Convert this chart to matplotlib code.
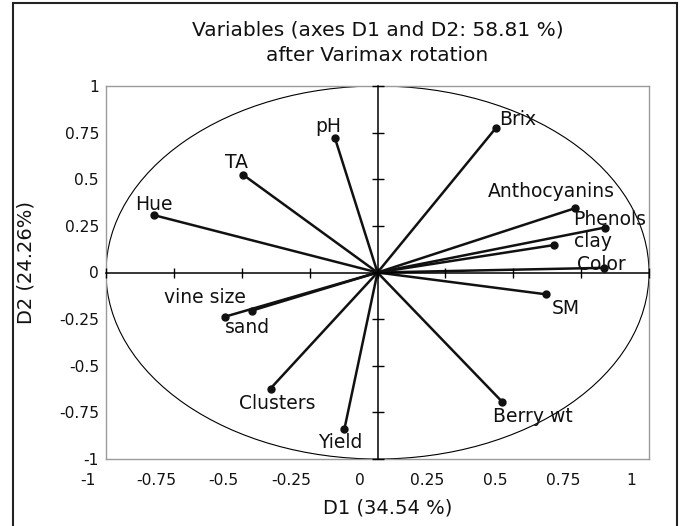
import matplotlib
matplotlib.use("Agg")
import matplotlib.pyplot as plt
import matplotlib.transforms as mtransforms
from matplotlib.patches import Circle, Rectangle

# ---- data ----
variables = ["Hue", "TA", "pH", "Brix", "Anthocyanins", "Phenols", "clay",
             "Color", "SM", "Berry wt", "Yield", "Clusters", "vine size", "sand"]
d1 = [-0.822, -0.494, -0.157, 0.435, 0.726, 0.837, 0.649,
      0.834, 0.621, 0.459, -0.122, -0.394, -0.562, -0.464]
d2 = [0.307, 0.523, 0.722, 0.773, 0.344, 0.241, 0.147,
      0.025, -0.117, -0.693, -0.840, -0.622, -0.237, -0.205]
tick_values = [-1, -0.75, -0.5, -0.25, 0, 0.25, 0.5, 0.75, 1]
tick_labels = ["-1", "-0.75", "-0.5", "-0.25", "0", "0.25", "0.5", "0.75", "1"]
title_text = "Variables (axes D1 and D2: 58.81 %)\nafter Varimax rotation"
xlabel_text = "D1 (34.54 %)"
ylabel_text = "D2 (24.26%)"

# label placement (offset of label centre from point, in pixels)
label_offsets = [(0, 11), (-7, 12), (-7, 11), (22, 9), (-23, 17), (5, 8), (39, 4),
                 (-3, 3), (20, -14), (31, -15), (-4, -13), (7, -15), (-20, 19), (-4, -17)]

plt.rcParams['font.family'] = ['DejaVu Sans']

W, H = 680, 526
fig = plt.figure(figsize=(W / 100, H / 100), dpi=100)
fig.patch.set_facecolor("white")

L, R, T, B = 106, 649, 86, 459
rect = [L / W, 1 - B / H, (R - L) / W, (B - T) / H]
ax = fig.add_axes(rect)
ax.set_xlim(-1, 1)
ax.set_ylim(-1, 1)
for s in ax.spines.values():
    s.set_color("#9a9a9a")
    s.set_linewidth(1.0)
ax.set_xticks(tick_values)
ax.set_xticklabels(tick_labels)
ax.set_yticks(tick_values)
ax.set_yticklabels(tick_labels)
ax.tick_params(axis="both", length=0, labelsize=11.2, colors="#111111")
ax.tick_params(axis="x", pad=10)
ax.tick_params(axis="y", pad=5)
shift = mtransforms.ScaledTranslation(-18 / 100, 0, fig.dpi_scale_trans)
for lab in ax.get_xticklabels():
    lab.set_transform(lab.get_transform() + shift)

# unit circle
ax.add_patch(Circle((0, 0), 1, fill=False, edgecolor="black", linewidth=0.8, zorder=2))

# vectors
for x, y in zip(d1, d2):
    ax.plot([0, x], [0, y], color="#111111", linewidth=1.8, zorder=3,
            solid_capstyle="round")
ax.plot(d1, d2, linestyle="none", marker="o", markersize=5, color="#111111", zorder=4)
for name, x, y, off in zip(variables, d1, d2, label_offsets):
    ax.annotate(name, (x, y), xytext=off, textcoords="offset pixels",
                ha="center", va="center", fontsize=13.5, color="#111111", zorder=5)

# zero axes with tick marks
ax2 = fig.add_axes(rect, sharex=ax, sharey=ax)
ax2.patch.set_visible(False)
ax2.spines["left"].set_position("zero")
ax2.spines["bottom"].set_position("zero")
ax2.spines["top"].set_visible(False)
ax2.spines["right"].set_visible(False)
for s in ("left", "bottom"):
    ax2.spines[s].set_color("black")
    ax2.spines[s].set_linewidth(1.1)
ax2.tick_params(axis="both", direction="inout", width=1.0,
                labelbottom=False, labelleft=False, colors="black")
ax2.tick_params(axis="y", length=9)
ax2.tick_params(axis="x", length=7)

# titles and axis labels
ax.set_title(title_text, fontsize=14.5, color="#111111", pad=18, linespacing=1.4)
ax.set_xlabel(xlabel_text, fontsize=14, color="#111111")
ax.xaxis.set_label_coords((388 - L) / (R - L), (B - 508) / (B - T))
ax.xaxis.label.set_va("center")
ax.set_ylabel(ylabel_text, fontsize=14, color="#111111")
ax.yaxis.set_label_coords((26 - L) / (R - L), (B - 262) / (B - T))
ax.yaxis.label.set_va("center")

# outer frame
fig.add_artist(Rectangle((13 / W, -0.05), (677 - 13) / W, 1 - 3 / H + 0.05,
                         transform=fig.transFigure, fill=False,
                         edgecolor="#222222", linewidth=1.5))

fig.savefig("out.png", dpi=100)
